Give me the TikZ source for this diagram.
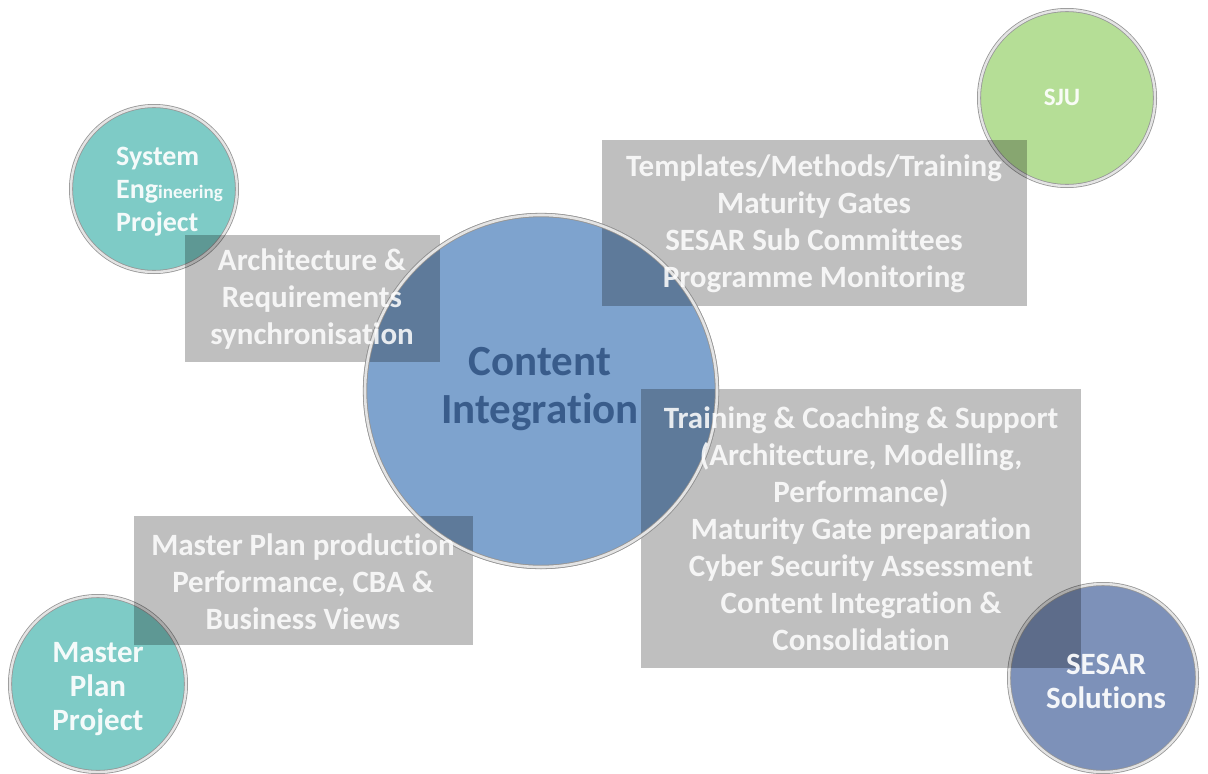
\documentclass[tikz,border=0pt]{standalone}
\usepackage{fontspec}
\setmainfont{Carlito}[Ligatures=NoCommon]
\definecolor{tealball}{RGB}{126,203,198}
\definecolor{sjugreen}{RGB}{181,222,150}
\definecolor{bigblue}{RGB}{126,163,206}
\definecolor{sesarblue}{RGB}{125,145,185}
\definecolor{citext}{RGB}{50,85,132}
\definecolor{rimdark}{RGB}{150,150,150}
\definecolor{rimlight}{RGB}{228,228,228}
\tikzset{
  ball/.style={circle, minimum size=#1, inner sep=0pt, draw=rimdark, line width=0.8pt,
    double=rimlight, double distance=2.4pt},
  rimonly/.style={circle, minimum size=#1, inner sep=0pt, draw=rimdark, line width=0.8pt,
    double=rimlight, double distance=2.6pt},
  gbox/.style={rectangle, inner sep=0pt, fill=black, fill opacity=0.25, draw=none},
  boxtext/.style={align=center, inner sep=0pt, text=white, text opacity=0.85,
    font=\bfseries\fontsize{31}{37}\selectfont},
  balltext/.style={align=center, inner sep=0pt, text=white, text opacity=0.92,
    font=\bfseries\fontsize{31}{34}\selectfont},
  bigtext/.style={align=center, inner sep=0pt, text=citext, text opacity=0.9,
    font=\bfseries\fontsize{43}{48}\selectfont}
}
\begin{document}
\begin{tikzpicture}[x=1pt,y=-1pt]
\useasboundingbox (0,0) rectangle (1208,774);
\fill[white] (0,0) rectangle (1208,774);
% circles
\node[ball=166, fill=tealball] (se) at (154,189) {};
\node[ball=176, fill=sjugreen] (sju) at (1067,98) {};
\node[ball=176, fill=tealball] (mp) at (98,684) {};
\node[ball=188, fill=sesarblue] (ss) at (1103,678) {};
\node[ball=352, fill=bigblue] (big) at (541,391) {};
% boxes
\node[gbox, minimum width=255, minimum height=127] (arch) at (312.5,298.5) {};
\node[gbox, minimum width=425, minimum height=166] (tmpl) at (814.5,223) {};
\node[gbox, minimum width=440, minimum height=279] (train) at (861,528.5) {};
\node[gbox, minimum width=339, minimum height=129] (mpb) at (303.5,580.5) {};
% big circle rim on top
\node[rimonly=352] (bigrim) at (big) {};
% box texts
\node[boxtext] (archt) at (312,299) {Architecture \&\\Requirements\\synchronisation};
\node[boxtext] (tmplt) at (814,224) {Templates/Methods/Training\\Maturity Gates\\SESAR Sub Committees\\Programme Monitoring};
\node[boxtext] (traint) at (861,529) {Training \& Coaching \& Support\\(Architecture, Modelling,\\Performance)\\Maturity Gate preparation\\Cyber Security Assessment\\Content Integration \&\\Consolidation};
\node[boxtext] (mpbt) at (303,582) {Master Plan production\\Performance, CBA \&\\Business Views};
% circle texts
\node[balltext, align=left, anchor=west, font=\bfseries\fontsize{28}{33}\selectfont] (set) at (116,192) {System\\Eng{\fontsize{19}{22}\selectfont ineering}\\Project};
\node[balltext, font=\bfseries\fontsize{25}{28}\selectfont] (sjut) at (1062,97) {SJU};
\node[balltext] (mpt) at (98,689) {Master\\Plan\\Project};
\node[balltext] (sst) at (1106,681) {SESAR\\Solutions};
\node[bigtext] (bigt) at (540,389) {Content\\Integration};
\end{tikzpicture}
\end{document}
